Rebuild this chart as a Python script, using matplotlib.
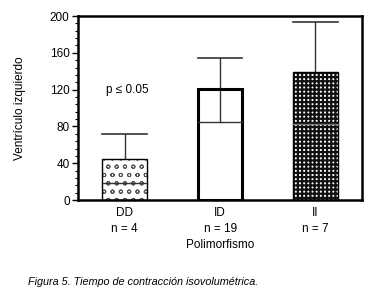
import matplotlib
matplotlib.use("Agg")
import matplotlib.pyplot as plt
from matplotlib.ticker import MultipleLocator
import matplotlib.font_manager as fm

categories = ["DD", "ID", "II"]
n_labels = ["n = 4", "n = 19", "n = 7"]
bar_tops = [45, 121, 139]
mid_values = [19, 85, 83]
upper_values = [72, 154, 193]
yticks = [0, 40, 80, 120, 160, 200]

names = {f.name for f in fm.fontManager.ttflist}
fam = ["Liberation Sans Narrow", "DejaVu Sans"] if "Liberation Sans Narrow" in names else ["Liberation Sans", "DejaVu Sans"]
plt.rcParams['font.family'] = fam

fig = plt.figure(figsize=(3.69, 2.92), dpi=100)
ax = fig.add_axes([0.2114, 0.315, 0.770, 0.630])

x = list(range(len(categories)))
w = 0.47
edge_lw = [1.0, 2.2, 1.0]
for i in x:
    if i == 0:
        plt.rcParams['hatch.linewidth'] = 0.7
        ax.bar(i, bar_tops[i], w, facecolor='white', edgecolor='#555555', hatch='oo', linewidth=0, zorder=2)
    elif i == 2:
        plt.rcParams['hatch.linewidth'] = 1.6
        ax.bar(i, bar_tops[i], w, facecolor='white', edgecolor='#111111', hatch='++++', linewidth=0, zorder=2)
    ax.bar(i, bar_tops[i], w, fill=False, edgecolor='black', linewidth=edge_lw[i], zorder=3)
    ax.plot([i - w / 2, i + w / 2], [mid_values[i], mid_values[i]],
            color='#333333' if i != 2 else '#777777', lw=1.0, zorder=4)
    ax.plot([i, i], [mid_values[i], upper_values[i]], color='#333333', lw=1.0, zorder=1)
    ax.plot([i - w / 2, i + w / 2], [upper_values[i], upper_values[i]], color='#333333', lw=1.2, zorder=1)

ax.set_xlim(-0.49, 2.49)
ax.set_ylim(0, 200)
ax.set_yticks(yticks)
ax.yaxis.set_minor_locator(MultipleLocator(8))
ax.tick_params(axis='y', which='major', length=4, width=1, labelsize=8.5, pad=2)
ax.tick_params(axis='y', which='minor', length=2.5, width=0.8)
ax.set_xticks(x)
ax.set_xticklabels([f"{c}\n{n}" for c, n in zip(categories, n_labels)], fontsize=8.5, linespacing=1.4)
ax.tick_params(axis='x', length=0, pad=5)
for s in ax.spines.values():
    s.set_linewidth(1.8)

ax.set_ylabel("Ventrículo izquierdo", fontsize=8.5, labelpad=17)
ax.set_xlabel("Polimorfismo", fontsize=8.5, labelpad=3)
ax.text(-0.2, 120, "p ≤ 0.05", fontsize=8.5, va='center', ha='left')

fig.text(0.076, 0.025, "Figura 5. Tiempo de contracción isovolumétrica.", fontsize=7.8, style='italic')

fig.savefig("out.png", dpi=100)
